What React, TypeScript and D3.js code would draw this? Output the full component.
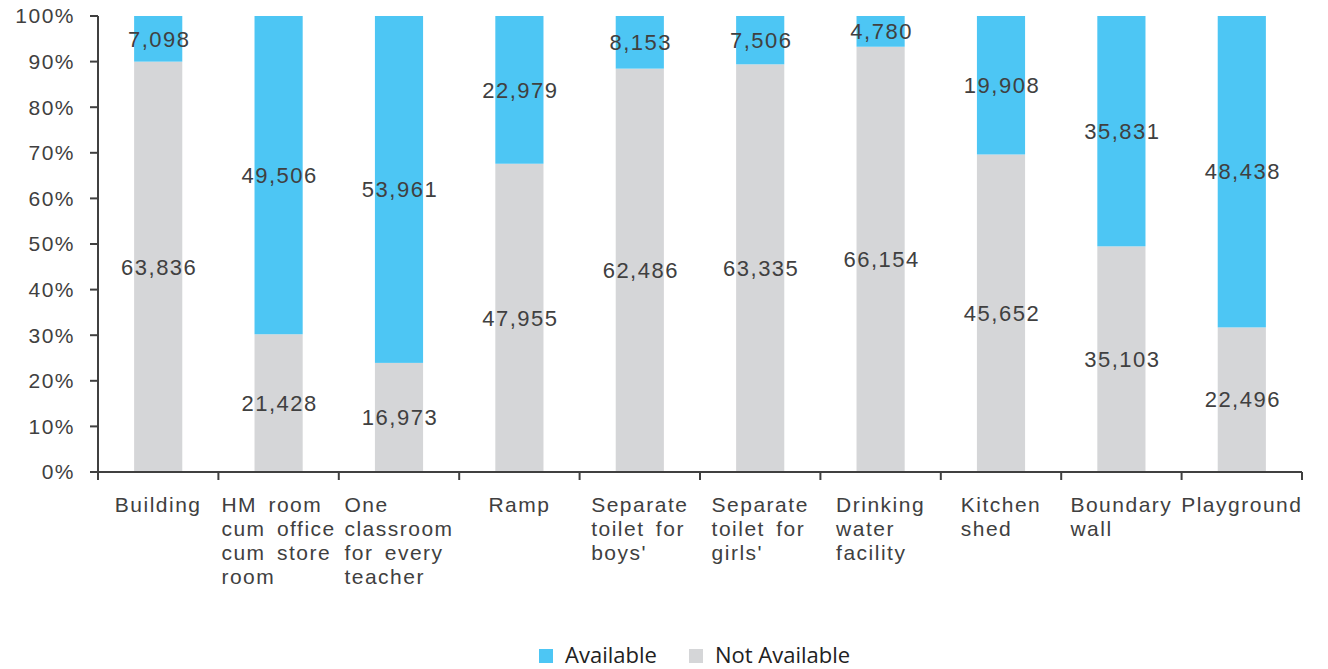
import React, { useEffect, useRef } from "react";
import * as d3 from "d3";

const categories: string[][] = [
  ["Building"],
  ["HM room", "cum office", "cum store", "room"],
  ["One", "classroom", "for every", "teacher"],
  ["Ramp"],
  ["Separate", "toilet for", "boys'"],
  ["Separate", "toilet for", "girls'"],
  ["Drinking", "water", "facility"],
  ["Kitchen", "shed"],
  ["Boundary", "wall"],
  ["Playground"],
];
const available = [7098, 49506, 53961, 22979, 8153, 7506, 4780, 19908, 35831, 48438];
const notAvailable = [63836, 21428, 16973, 47955, 62486, 63335, 66154, 45652, 35103, 22496];
const yTicks = [0, 0.1, 0.2, 0.3, 0.4, 0.5, 0.6, 0.7, 0.8, 0.9, 1.0];
const seriesNames = ["Available", "Not Available"];

const BLUE = "#4DC6F4";
const GREY = "#D5D6D8";
const TEXT = "#404040";
const FONT = "'Liberation Sans', Arial, sans-serif";

export default function App() {
  const ref = useRef<SVGSVGElement>(null);

  useEffect(() => {
    const svg = d3.select(ref.current);
    svg.selectAll("*").remove();
    const left = 98, right = 1302, top = 16, bottom = 472;
    const idx = categories.map((_, i) => String(i));
    const x = d3.scaleBand().domain(idx).range([left, right]).paddingInner(0.6).paddingOuter(0.3);
    const y = d3.scaleLinear().domain([0, 1]).range([bottom, top]);
    const g = svg.append("g");

    const fmt = d3.format(",");
    categories.forEach((_, i) => {
      const tot = available[i] + notAvailable[i];
      const pNA = notAvailable[i] / tot;
      const bx = x(String(i))!;
      const bw = x.bandwidth();
      g.append("rect").attr("x", bx).attr("width", bw).attr("y", y(pNA)).attr("height", y(0) - y(pNA)).attr("fill", GREY);
      g.append("rect").attr("x", bx).attr("width", bw).attr("y", y(1)).attr("height", y(pNA) - y(1)).attr("fill", BLUE);
      const cx = bx + bw / 2;
      g.append("text").attr("x", cx + 1).attr("y", (y(0) + y(pNA)) / 2).attr("dy", "0.35em")
        .attr("text-anchor", "middle").attr("font-family", FONT).attr("font-size", 22)
        .attr("letter-spacing", "1.5px").attr("fill", TEXT).text(fmt(notAvailable[i]));
      g.append("text").attr("x", cx + 1).attr("y", (y(1) + y(pNA)) / 2).attr("dy", "0.35em")
        .attr("text-anchor", "middle").attr("font-family", FONT).attr("font-size", 22)
        .attr("letter-spacing", "1.5px").attr("fill", TEXT).text(fmt(available[i]));
    });

    // y axis
    const ya = g.append("g");
    ya.append("line").attr("x1", left).attr("x2", left).attr("y1", top).attr("y2", bottom + 8).attr("stroke", TEXT).attr("stroke-width", 2);
    yTicks.forEach((t) => {
      ya.append("line").attr("x1", left - 8).attr("x2", left).attr("y1", y(t)).attr("y2", y(t)).attr("stroke", TEXT).attr("stroke-width", 2);
      ya.append("text").attr("x", 75).attr("y", y(t)).attr("dy", "0.35em").attr("text-anchor", "end")
        .attr("font-family", FONT).attr("font-size", 21).attr("letter-spacing", "1.5px").attr("fill", TEXT)
        .text(d3.format(".0%")(t));
    });

    // x axis
    const xa = g.append("g");
    xa.append("line").attr("x1", left).attr("x2", right).attr("y1", bottom).attr("y2", bottom).attr("stroke", TEXT).attr("stroke-width", 2);
    for (let i = 0; i <= categories.length; i++) {
      const tx = left + i * (right - left) / categories.length;
      xa.append("line").attr("x1", tx).attr("x2", tx).attr("y1", bottom).attr("y2", bottom + 8).attr("stroke", TEXT).attr("stroke-width", 2);
    }
    categories.forEach((lines, i) => {
      const cx = x(String(i))! + x.bandwidth() / 2;
      const t = xa.append("text").attr("font-family", FONT).attr("font-size", 21)
        .attr("letter-spacing", "1.5px").attr("word-spacing", "4px").attr("fill", TEXT);
      lines.forEach((ln, j) => {
        t.append("tspan").attr("x", 0).attr("y", 512 + j * 24).text(ln);
      });
      let maxW = 0;
      t.selectAll<SVGTSpanElement, unknown>("tspan").each(function () {
        maxW = Math.max(maxW, this.getComputedTextLength());
      });
      t.selectAll("tspan").attr("x", cx - maxW / 2);
    });

    // legend
    const lg = g.append("g");
    const LFONT = "'Open Sans', 'Noto Sans', sans-serif";
    const items = [
      { name: seriesNames[0], color: BLUE, x: 539 },
      { name: seriesNames[1], color: GREY, x: 689 },
    ];
    items.forEach((it) => {
      lg.append("rect").attr("x", it.x).attr("y", 649).attr("width", 14).attr("height", 14).attr("fill", it.color);
      lg.append("text").attr("x", it.x + 26).attr("y", 663).attr("font-family", LFONT).attr("font-size", 22).attr("fill", "#222").text(it.name);
    });
  }, []);

  return (
    <svg ref={ref} width={1328} height={669} style={{ position: "absolute", left: 0, top: 0, background: "#fff" }} />
  );
}
